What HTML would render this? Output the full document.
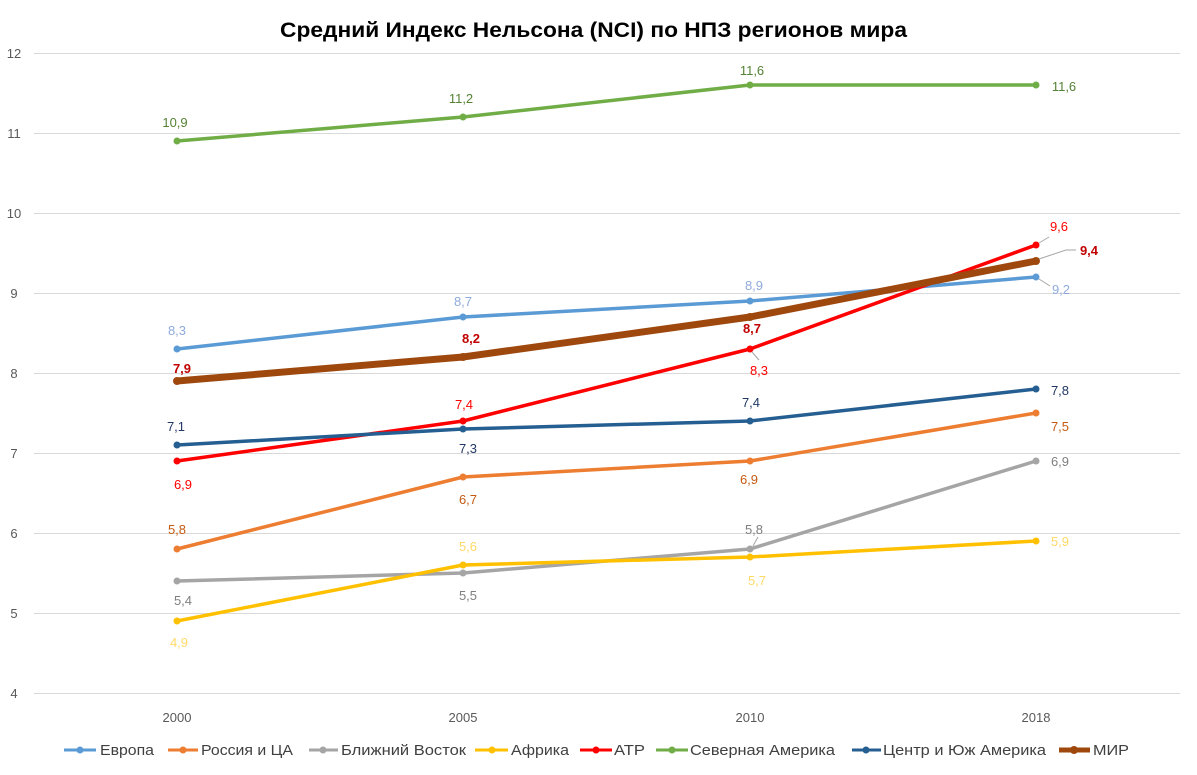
<!DOCTYPE html>
<html><head><meta charset="utf-8"><style>
html,body{margin:0;padding:0;background:#fff;}
svg{display:block;font-family:"Liberation Sans","DejaVu Sans",sans-serif;}
</style></head><body>
<svg width="1197" height="775" viewBox="0 0 1197 775" xmlns="http://www.w3.org/2000/svg">
<rect width="1197" height="775" fill="#fff"/>
<text x="280" y="37" textLength="627" lengthAdjust="spacingAndGlyphs" font-size="21" font-weight="bold" fill="#000">Средний Индекс Нельсона (NCI) по НПЗ регионов мира</text>
<g stroke="#d9d9d9" stroke-width="1">
<line x1="34" x2="1180" y1="53.5" y2="53.5"/><line x1="34" x2="1180" y1="133.5" y2="133.5"/>
<line x1="34" x2="1180" y1="213.5" y2="213.5"/><line x1="34" x2="1180" y1="293.5" y2="293.5"/>
<line x1="34" x2="1180" y1="373.5" y2="373.5"/><line x1="34" x2="1180" y1="453.5" y2="453.5"/>
<line x1="34" x2="1180" y1="533.5" y2="533.5"/><line x1="34" x2="1180" y1="613.5" y2="613.5"/>
<line x1="34" x2="1180" y1="693.5" y2="693.5"/>
</g>
<g font-size="13" fill="#595959" text-anchor="middle">
<text x="14" y="58">12</text><text x="14" y="138">11</text><text x="14" y="218">10</text>
<text x="14" y="298">9</text><text x="14" y="378">8</text><text x="14" y="458">7</text>
<text x="14" y="538">6</text><text x="14" y="618">5</text><text x="14" y="698">4</text>
<text x="177" y="722">2000</text><text x="463" y="722">2005</text><text x="750" y="722">2010</text><text x="1036" y="722">2018</text>
</g>
<g fill="none" stroke-linejoin="round" stroke-linecap="round">
<polyline stroke="#70AD47" stroke-width="3.5" points="177,141 463,117 750,85 1036,85"/>
<polyline stroke="#5B9BD5" stroke-width="3.5" points="177,349 463,317 750,301 1036,277"/>
<polyline stroke="#ED7D31" stroke-width="3.5" points="177,549 463,477 750,461 1036,413"/>
<polyline stroke="#A5A5A5" stroke-width="3.5" points="177,581 463,573 750,549 1036,461"/>
<polyline stroke="#FFC000" stroke-width="3.5" points="177,621 463,565 750,557 1036,541"/>
<polyline stroke="#FF0000" stroke-width="3.5" points="177,461 463,421 750,349 1036,245"/>
<polyline stroke="#255E91" stroke-width="3.5" points="177,445 463,429 750,421 1036,389"/>
<polyline stroke="#9E480E" stroke-width="7" points="177,381 463,357 750,317 1036,261"/>
</g>
<g>
<g fill="#70AD47"><circle cx="177" cy="141" r="3.5"/><circle cx="463" cy="117" r="3.5"/><circle cx="750" cy="85" r="3.5"/><circle cx="1036" cy="85" r="3.5"/></g>
<g fill="#5B9BD5"><circle cx="177" cy="349" r="3.5"/><circle cx="463" cy="317" r="3.5"/><circle cx="750" cy="301" r="3.5"/><circle cx="1036" cy="277" r="3.5"/></g>
<g fill="#ED7D31"><circle cx="177" cy="549" r="3.5"/><circle cx="463" cy="477" r="3.5"/><circle cx="750" cy="461" r="3.5"/><circle cx="1036" cy="413" r="3.5"/></g>
<g fill="#A5A5A5"><circle cx="177" cy="581" r="3.5"/><circle cx="463" cy="573" r="3.5"/><circle cx="750" cy="549" r="3.5"/><circle cx="1036" cy="461" r="3.5"/></g>
<g fill="#FFC000"><circle cx="177" cy="621" r="3.5"/><circle cx="463" cy="565" r="3.5"/><circle cx="750" cy="557" r="3.5"/><circle cx="1036" cy="541" r="3.5"/></g>
<g fill="#FF0000"><circle cx="177" cy="461" r="3.5"/><circle cx="463" cy="421" r="3.5"/><circle cx="750" cy="349" r="3.5"/><circle cx="1036" cy="245" r="3.5"/></g>
<g fill="#255E91"><circle cx="177" cy="445" r="3.5"/><circle cx="463" cy="429" r="3.5"/><circle cx="750" cy="421" r="3.5"/><circle cx="1036" cy="389" r="3.5"/></g>
<g fill="#9E480E"><circle cx="177" cy="381" r="4"/><circle cx="463" cy="357" r="4"/><circle cx="750" cy="317" r="4"/><circle cx="1036" cy="261" r="4"/></g>
</g>
<g stroke="#a6a6a6" stroke-width="1" fill="none">
<polyline points="752,352 759,360"/><polyline points="1039,243 1049,237"/><polyline points="1039,259 1066,250 1076,250"/>
<polyline points="753,546 758,537"/><polyline points="1039,279 1050,286"/>
</g>
<g font-size="13" text-anchor="middle">
<g fill="#548235"><text x="175" y="127">10,9</text><text x="461" y="103">11,2</text><text x="752" y="75">11,6</text><text x="1064" y="91">11,6</text></g>
<g fill="#8FAADC"><text x="177" y="335">8,3</text><text x="463" y="306">8,7</text><text x="754" y="290">8,9</text><text x="1061" y="294">9,2</text></g>
<g fill="#C55A11"><text x="177" y="534">5,8</text><text x="468" y="504">6,7</text><text x="749" y="484">6,9</text><text x="1060" y="431">7,5</text></g>
<g fill="#7F7F7F"><text x="183" y="605">5,4</text><text x="468" y="600">5,5</text><text x="754" y="534">5,8</text><text x="1060" y="466">6,9</text></g>
<g fill="#FFD966"><text x="179" y="647">4,9</text><text x="468" y="551">5,6</text><text x="757" y="585">5,7</text><text x="1060" y="546">5,9</text></g>
<g fill="#FF0000"><text x="183" y="489">6,9</text><text x="464" y="409">7,4</text><text x="759" y="375">8,3</text><text x="1059" y="231">9,6</text></g>
<g fill="#203864"><text x="176" y="431">7,1</text><text x="468" y="453">7,3</text><text x="751" y="407">7,4</text><text x="1060" y="395">7,8</text></g>
<g fill="#C00000" font-weight="bold"><text x="182" y="373">7,9</text><text x="471" y="343">8,2</text><text x="752" y="333">8,7</text><text x="1089" y="255">9,4</text></g>
</g>
<g font-size="15" fill="#404040">
<g stroke-width="3"><line x1="64" x2="96" y1="750" y2="750" stroke="#5B9BD5"/><line x1="168" x2="198" y1="750" y2="750" stroke="#ED7D31"/>
<line x1="309" x2="338" y1="750" y2="750" stroke="#A5A5A5"/><line x1="475" x2="508" y1="750" y2="750" stroke="#FFC000"/>
<line x1="580" x2="612" y1="750" y2="750" stroke="#FF0000"/><line x1="656" x2="688" y1="750" y2="750" stroke="#70AD47"/>
<line x1="852" x2="881" y1="750" y2="750" stroke="#255E91"/><line x1="1059" x2="1090" y1="750" y2="750" stroke="#9E480E" stroke-width="5"/></g>
<circle cx="80" cy="750" r="3.5" fill="#5B9BD5"/><circle cx="183" cy="750" r="3.5" fill="#ED7D31"/><circle cx="323" cy="750" r="3.5" fill="#A5A5A5"/>
<circle cx="492" cy="750" r="3.5" fill="#FFC000"/><circle cx="596" cy="750" r="3.5" fill="#FF0000"/><circle cx="672" cy="750" r="3.5" fill="#70AD47"/>
<circle cx="866" cy="750" r="3.5" fill="#255E91"/><circle cx="1074" cy="750" r="4" fill="#9E480E"/>
<text x="100" y="755" textLength="54" lengthAdjust="spacingAndGlyphs">Европа</text>
<text x="201" y="755" textLength="92" lengthAdjust="spacingAndGlyphs">Россия и ЦА</text>
<text x="341" y="755" textLength="125" lengthAdjust="spacingAndGlyphs">Ближний Восток</text>
<text x="511" y="755" textLength="58" lengthAdjust="spacingAndGlyphs">Африка</text>
<text x="614" y="755" textLength="31" lengthAdjust="spacingAndGlyphs">АТР</text>
<text x="690" y="755" textLength="145" lengthAdjust="spacingAndGlyphs">Северная Америка</text>
<text x="883" y="755" textLength="163" lengthAdjust="spacingAndGlyphs">Центр и Юж Америка</text>
<text x="1093" y="755" textLength="36" lengthAdjust="spacingAndGlyphs">МИР</text>
</g>
</svg>
</body></html>
